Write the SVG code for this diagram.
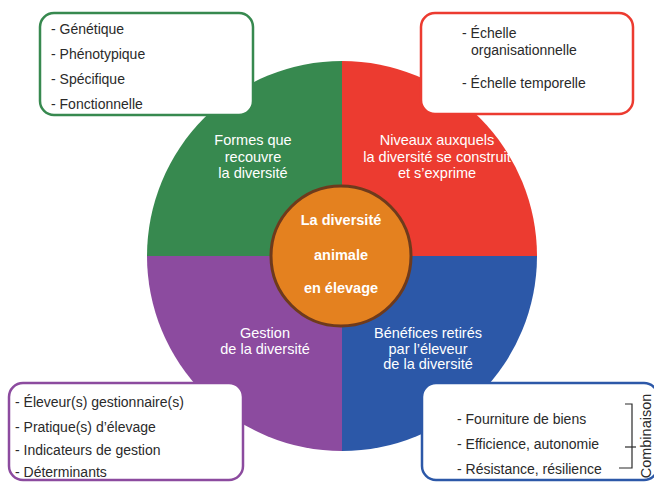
<svg xmlns="http://www.w3.org/2000/svg" width="654" height="482" viewBox="0 0 654 482">
<style>
.box{fill:#fff;stroke-width:2.5}
.t{font-family:"Liberation Sans",Arial,sans-serif;font-size:14px;fill:#2a2a2a}
.q{font-family:"Liberation Sans",Arial,sans-serif;font-size:14.5px;fill:#fff;text-anchor:middle}
.c{font-family:"Liberation Sans",Arial,sans-serif;font-size:14.5px;font-weight:bold;fill:#fff;text-anchor:middle}
</style>
<rect width="654" height="482" fill="#fff"/>
<g id="wheel">
<path id="q-green" d="M342,256 L147,256 A195,195 0 0 1 342,61 Z" fill="#37894f"/>
<path id="q-red" d="M342,256 L342,61 A195,195 0 0 1 537,256 Z" fill="#ec3b30"/>
<path id="q-blue" d="M342,256 L537,256 A195,195 0 0 1 342,451 Z" fill="#2c58a8"/>
<path id="q-purple" d="M342,256 L342,451 A195,195 0 0 1 147,256 Z" fill="#8c4b9f"/>
</g>
<g id="center">
<circle cx="341" cy="256" r="70" fill="#e4811f" stroke="#6e3a1c" stroke-width="3"/>
<text class="c" x="341" y="225">La diversité</text>
<text class="c" x="341" y="260">animale</text>
<text class="c" x="341" y="293">en élevage</text>
</g>
<g id="label-green">
<text class="q" x="253" y="145">Formes que</text>
<text class="q" x="253" y="162">recouvre</text>
<text class="q" x="253" y="178">la diversité</text>
</g>
<g id="label-red">
<text class="q" x="437" y="145">Niveaux auxquels</text>
<text class="q" x="437" y="162">la diversité se construit</text>
<text class="q" x="437" y="178">et s’exprime</text>
</g>
<g id="label-purple">
<text class="q" x="265" y="338">Gestion</text>
<text class="q" x="265" y="354">de la diversité</text>
</g>
<g id="label-blue">
<text class="q" x="428" y="338">Bénéfices retirés</text>
<text class="q" x="428" y="354">par l’éleveur</text>
<text class="q" x="428" y="369">de la diversité</text>
</g>
<g id="box-green">
<rect class="box" x="40" y="13" width="213" height="102" rx="14" stroke="#37894f"/>
<text class="t" x="51" y="34">- Génétique</text>
<text class="t" x="51" y="59">- Phénotypique</text>
<text class="t" x="51" y="84">- Spécifique</text>
<text class="t" x="51" y="109">- Fonctionnelle</text>
</g>
<g id="box-red">
<rect class="box" x="421" y="13" width="212" height="101" rx="14" stroke="#ec3b30"/>
<text class="t" x="462" y="38">- Échelle</text>
<text class="t" x="471" y="55">organisationnelle</text>
<text class="t" x="462" y="88">- Échelle temporelle</text>
</g>
<g id="box-purple">
<rect class="box" x="9" y="383" width="234" height="97" rx="14" stroke="#8c4b9f"/>
<text class="t" x="15" y="407">- Éleveur(s) gestionnaire(s)</text>
<text class="t" x="15" y="432">- Pratique(s) d’élevage</text>
<text class="t" x="15" y="455">- Indicateurs de gestion</text>
<text class="t" x="15" y="477">- Déterminants</text>
</g>
<g id="box-blue">
<rect class="box" x="422" y="383" width="236" height="97" rx="14" stroke="#2c58a8"/>
<text class="t" x="457" y="424">- Fourniture de biens</text>
<text class="t" x="457" y="449">- Efficience, autonomie</text>
<text class="t" x="457" y="474">- Résistance, résilience</text>
<text class="t" transform="translate(651,436) rotate(-90)" text-anchor="middle" style="font-size:14.5px">Combinaison</text>
</g>
<g id="connectors" fill="none" stroke="#2a2a2a" stroke-width="1.2">
<path d="M625,404 H632 V468 H619"/>
<path d="M625,447 H636"/>
</g>
</svg>
